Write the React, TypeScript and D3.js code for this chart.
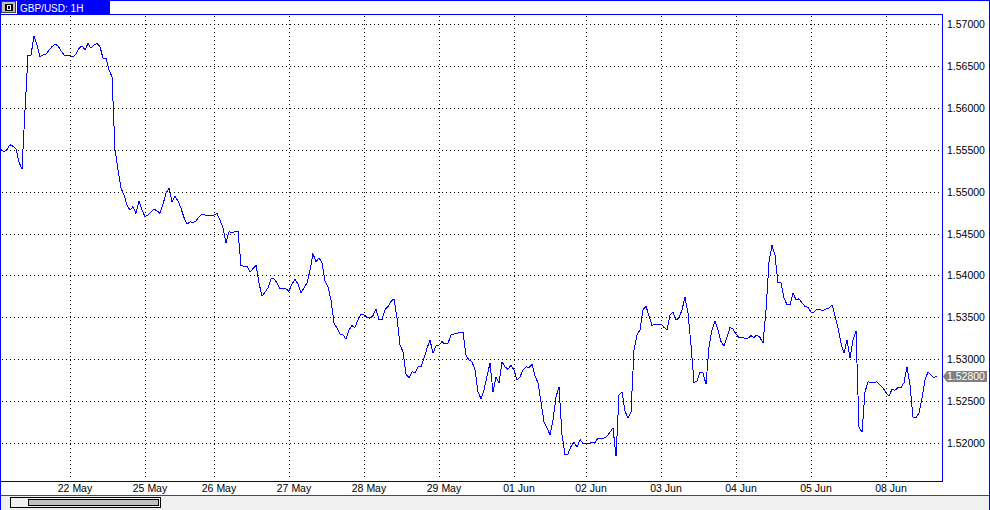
import React from 'react';
import * as d3 from 'd3';

// GBP/USD 1H closes, one per hourly bar
const closes: number[] = [
  1.5550, 1.5548, 1.5550, 1.5556, 1.5554, 1.5551, 1.5535, 1.5527, 1.5597, 1.5663,
  1.5663, 1.5686, 1.5675, 1.5661, 1.5663, 1.5664, 1.5669, 1.5673, 1.5676, 1.5674,
  1.5668, 1.5663, 1.5662, 1.5662, 1.5661, 1.5664, 1.5671, 1.5674, 1.5669, 1.5677,
  1.5671, 1.5675, 1.5677, 1.5673, 1.5659, 1.5659, 1.5645, 1.5637, 1.5550, 1.5526,
  1.5504, 1.5496, 1.5484, 1.5478, 1.5482, 1.5474, 1.5489, 1.5478, 1.5470, 1.5472,
  1.5476, 1.5479, 1.5477, 1.5474, 1.5485, 1.5498, 1.5504, 1.5488, 1.5494, 1.5489,
  1.5480, 1.5469, 1.5461, 1.5464, 1.5463, 1.5465, 1.5470, 1.5473, 1.5472, 1.5471,
  1.5471, 1.5472, 1.5474, 1.5466, 1.5457, 1.5439, 1.5452, 1.5451, 1.5452, 1.5453,
  1.5412, 1.5411, 1.5411, 1.5404, 1.5408, 1.5412, 1.5391, 1.5375, 1.5380, 1.5385,
  1.5396, 1.5396, 1.5391, 1.5384, 1.5385, 1.5384, 1.5381, 1.5390, 1.5395, 1.5390,
  1.5379, 1.5385, 1.5391, 1.5406, 1.5426, 1.5416, 1.5421, 1.5415, 1.5393, 1.5386,
  1.5371, 1.5343, 1.5337, 1.5330, 1.5329, 1.5324, 1.5335, 1.5340, 1.5338, 1.5347,
  1.5354, 1.5353, 1.5350, 1.5349, 1.5352, 1.5360, 1.5347, 1.5347, 1.5359, 1.5363,
  1.5369, 1.5372, 1.5349, 1.5317, 1.5309, 1.5282, 1.5278, 1.5285, 1.5284, 1.5291,
  1.5291, 1.5301, 1.5313, 1.5323, 1.5307, 1.5316, 1.5317, 1.5321, 1.5318, 1.5319,
  1.5329, 1.5330, 1.5331, 1.5332, 1.5332, 1.5305, 1.5299, 1.5297, 1.5287, 1.5261,
  1.5253, 1.5263, 1.5280, 1.5295, 1.5261, 1.5279, 1.5272, 1.5297, 1.5291, 1.5288,
  1.5293, 1.5287, 1.5275, 1.5279, 1.5287, 1.5291, 1.5290, 1.5294, 1.5280, 1.5272,
  1.5249, 1.5225, 1.5218, 1.5210, 1.5227, 1.5255, 1.5267, 1.5210, 1.5186, 1.5187,
  1.5196, 1.5201, 1.5195, 1.5204, 1.5200, 1.5200, 1.5199, 1.5201, 1.5200, 1.5206,
  1.5205, 1.5206, 1.5208, 1.5213, 1.5218, 1.5184, 1.5257, 1.5261, 1.5238, 1.5230,
  1.5237, 1.5311, 1.5329, 1.5335, 1.5359, 1.5363, 1.5352, 1.5340, 1.5342, 1.5341,
  1.5342, 1.5338, 1.5335, 1.5353, 1.5356, 1.5347, 1.5349, 1.5359, 1.5374, 1.5355,
  1.5317, 1.5272, 1.5274, 1.5284, 1.5284, 1.5270, 1.5315, 1.5335, 1.5346, 1.5335,
  1.5321, 1.5316, 1.5326, 1.5338, 1.5336, 1.5330, 1.5326, 1.5326, 1.5325, 1.5325,
  1.5328, 1.5326, 1.5329, 1.5326, 1.5319, 1.5359, 1.5416, 1.5436, 1.5424, 1.5391,
  1.5391, 1.5373, 1.5365, 1.5365, 1.5379, 1.5371, 1.5372, 1.5367, 1.5363, 1.5362,
  1.5356, 1.5356, 1.5360, 1.5359, 1.5358, 1.5360, 1.5361, 1.5365, 1.5352, 1.5337,
  1.5319, 1.5307, 1.5323, 1.5301, 1.5323, 1.5334, 1.5219, 1.5213, 1.5261, 1.5273,
  1.5272, 1.5272, 1.5273, 1.5269, 1.5266, 1.5260, 1.5256, 1.5264, 1.5263, 1.5266,
  1.5266, 1.5272, 1.5291, 1.5269, 1.5231, 1.5230, 1.5236, 1.5254, 1.5275, 1.5285,
  1.5281, 1.5278, 1.5280,
];

// Bar index where each date label / vertical grid line falls
const dateLabels: string[] = [
  '22 May', '25 May', '26 May', '27 May', '28 May', '29 May',
  '01 Jun', '02 Jun', '03 Jun', '04 Jun', '05 Jun', '08 Jun',
];
const dateBars: number[] = [23, 48, 71, 96, 121, 146, 171, 195, 220, 245, 270, 295];

const priceTicks: number[] = [1.52, 1.525, 1.53, 1.535, 1.54, 1.545, 1.55, 1.555, 1.56, 1.565, 1.57];

const symbolTitle = 'GBP/USD: 1H';
const lastPrice = 1.528;

const W = 990;
const H = 510;
const plotLeft = 0;
const plotRight = 942;
const plotTop = 14;
const plotBottom = 481;
const FONT = '"Liberation Sans", Arial, sans-serif';
const BLUE = '#0000ff';

export default function App() {
  const x = d3.scaleLinear().domain([0, closes.length - 1]).range([1, 937]);
  const y = d3.scaleLinear().domain([1.52, 1.57]).range([443, 24]);
  const line = d3
    .line<number>()
    .x((_, i) => x(i))
    .y((d) => y(d));

  const lastY = Math.round(y(lastPrice));

  return (
    <svg
      width={W}
      height={H}
      style={{ position: 'fixed', left: 0, top: 0, background: '#fff' }}
      fontFamily={FONT}
    >
      <rect x={0} y={0} width={W} height={H} fill="#fff" />

      {/* horizontal dotted grid */}
      {priceTicks.map((p) => (
        <line
          key={'h' + p}
          x1={plotLeft + 2}
          x2={plotRight - 1}
          y1={Math.round(y(p)) + 0.5}
          y2={Math.round(y(p)) + 0.5}
          stroke="#000"
          strokeDasharray="1 3"
          shapeRendering="crispEdges"
        />
      ))}
      {/* vertical dotted grid */}
      {dateBars.map((b) => (
        <line
          key={'v' + b}
          x1={Math.round(x(b)) + 0.5}
          x2={Math.round(x(b)) + 0.5}
          y1={plotTop + 2}
          y2={plotBottom - 1}
          stroke="#000"
          strokeDasharray="1 3"
          shapeRendering="crispEdges"
        />
      ))}

      {/* price line */}
      <path
        d={line(closes) || ''}
        fill="none"
        stroke={BLUE}
        strokeWidth={1}
        shapeRendering="crispEdges"
      />

      {/* plot frame */}
      <rect
        x={plotLeft + 0.5}
        y={plotTop + 0.5}
        width={plotRight - plotLeft}
        height={plotBottom - plotTop}
        fill="none"
        stroke={BLUE}
        shapeRendering="crispEdges"
      />
      <line x1={0} x2={plotRight} y1={plotBottom + 0.5} y2={plotBottom + 0.5} stroke="#00008b" shapeRendering="crispEdges" />

      {/* price axis labels */}
      {priceTicks.map((p) => (
        <text key={'t' + p} x={947} y={Math.round(y(p)) + 4} fontSize={10.5} fill="#000">
          {p.toFixed(5)}
        </text>
      ))}

      {/* last price marker */}
      <path
        d={`M ${plotRight + 1} ${lastY + 0.5} L ${plotRight + 5} ${lastY - 5} L 987 ${lastY - 5} L 987 ${lastY + 6} L ${plotRight + 5} ${lastY + 6} Z`}
        fill="#808080"
      />
      <text x={947} y={lastY + 4} fontSize={10.5} fill="#fff">
        {lastPrice.toFixed(5)}
      </text>

      {/* date labels */}
      {dateBars.map((b, i) => (
        <text key={'d' + b} x={Math.round(x(b)) + 5} y={492} fontSize={10.5} textAnchor="middle" fill="#000">
          {dateLabels[i]}
        </text>
      ))}

      {/* bottom scrollbar area */}
      <rect x={0} y={495} width={W} height={H - 495} fill="#f0f0f0" />
      <line x1={0} x2={W} y1={495.5} y2={495.5} stroke="#1e4fa8" shapeRendering="crispEdges" />
      <rect x={10.5} y={497.5} width={150} height={10} fill="#f0f0f0" stroke="#000" shapeRendering="crispEdges" />
      <rect x={28.5} y={499.5} width={130} height={6} fill="#c0c0c0" stroke="#000" shapeRendering="crispEdges" />

      {/* header */}
      <rect x={0} y={0} width={W} height={14} fill="#fff" />
      <rect x={17} y={0} width={93} height={14} fill={BLUE} />
      <text x={20} y={11.5} fontSize={10} fill="#fff">
        {symbolTitle}
      </text>
      <rect x={1.5} y={1.5} width={14} height={11} fill="#c0c0c0" stroke="#404040" shapeRendering="crispEdges" />
      <rect x={4.5} y={3.5} width={8} height={7} fill="#000" shapeRendering="crispEdges" />
      <rect x={7} y={5} width={3} height={4} fill="none" stroke="#fff" strokeWidth={1} shapeRendering="crispEdges" />

      {/* outer window border */}
      <line x1={0} x2={W} y1={0.5} y2={0.5} stroke={BLUE} shapeRendering="crispEdges" />
      <line x1={W - 0.5} x2={W - 0.5} y1={0} y2={H} stroke={BLUE} shapeRendering="crispEdges" />
      <line x1={0.5} x2={0.5} y1={0} y2={H} stroke={BLUE} shapeRendering="crispEdges" />
    </svg>
  );
}
